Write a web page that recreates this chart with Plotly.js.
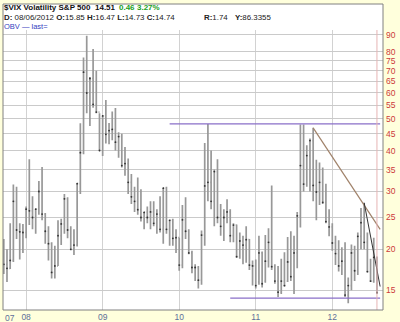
<!DOCTYPE html>
<html>
<head>
<meta charset="utf-8">
<script src="https://cdn.plot.ly/plotly-3.0.1.min.js"></script>
<style>html,body{margin:0;padding:0;background:#FFFFDC;}#chart{width:400px;height:322px;}</style>
</head>
<body>
<div id="chart"></div>
<script>
// Half-month bar periods (trading-style category axis)
const periods = [
 "2007-09-16","2007-10-01","2007-10-16","2007-11-01","2007-11-16","2007-12-01","2007-12-16",
 "2008-01-01","2008-01-16","2008-02-01","2008-02-16","2008-03-01","2008-03-16","2008-04-01","2008-04-16",
 "2008-05-01","2008-05-16","2008-06-01","2008-06-16","2008-07-01","2008-07-16","2008-08-01","2008-08-16",
 "2008-09-01","2008-09-16","2008-10-01","2008-10-16","2008-11-01","2008-11-16","2008-12-01","2008-12-16",
 "2009-01-01","2009-01-16","2009-02-01","2009-02-16","2009-03-01","2009-03-16","2009-04-01","2009-04-16",
 "2009-05-01","2009-05-16","2009-06-01","2009-06-16","2009-07-01","2009-07-16","2009-08-01","2009-08-16",
 "2009-09-01","2009-09-16","2009-10-01","2009-10-16","2009-11-01","2009-11-16","2009-12-01","2009-12-16",
 "2010-01-01","2010-01-16","2010-02-01","2010-02-16","2010-03-01","2010-03-16","2010-04-01","2010-04-16",
 "2010-05-01","2010-05-16","2010-06-01","2010-06-16","2010-07-01","2010-07-16","2010-08-01","2010-08-16",
 "2010-09-01","2010-09-16","2010-10-01","2010-10-16","2010-11-01","2010-11-16","2010-12-01","2010-12-16",
 "2011-01-01","2011-01-16","2011-02-01","2011-02-16","2011-03-01","2011-03-16","2011-04-01","2011-04-16",
 "2011-05-01","2011-05-16","2011-06-01","2011-06-16","2011-07-01","2011-07-16","2011-08-01","2011-08-16",
 "2011-09-01","2011-09-16","2011-10-01","2011-10-16","2011-11-01","2011-11-16","2011-12-01","2011-12-16",
 "2012-01-01","2012-01-16","2012-02-01","2012-02-16","2012-03-01","2012-03-16","2012-04-01","2012-04-16",
 "2012-05-01","2012-05-16","2012-06-01","2012-06-16","2012-07-01","2012-07-16","2012-08-01"
];
const openV = [
 20.5,18,17.5,18.5,28,22.9,22.6,
 22.5,26.5,26.2,25,26.5,30,25.6,22.7,
 20.8,17,17.8,22,23.9,28.5,22.9,20,
 20.6,31.7,39.4,69.3,59.9,66.3,55.3,52.4,
 40,51,44.8,46,46.4,42.4,44.1,36,
 36.5,32,28.9,28,26.4,25,25.9,25,
 26,24,25.6,23,30.7,23,24.5,21.6,
 21.7,17.9,24.6,22.7,19.5,17.6,17.6,16.1,
 22.1,31.2,32,28,34.5,25,23.5,25,
 26,22,23.7,19,21.2,20.6,21.4,17.9,
 17.8,15.9,19.5,16,18.4,21,17.7,16,
 14.8,16,16,18.3,16.5,19.5,25.3,36,
 31.6,38.6,42.9,31.3,29.9,32,27.8,24.3,
 23.4,20.9,19.4,17.8,18.4,14.5,15.5,19.5,
 17.2,21.9,24.1,21,17.1,16,18.9
];
const highV = [
 21.5,20,24,31.5,31,24,23.9,
 27,37.6,29,26.5,32.3,35.6,25.8,23.5,
 21,20.5,24.5,24.8,29.5,28.8,23.5,23,
 31.8,48.4,76.9,89.5,67,81.5,70,52,
 51,57,48.5,52.6,53.9,45.5,45,41,
 37.8,33.9,31,33.1,30.5,26,27,28,
 28,26.5,29,30.7,31,24.5,24.8,23,
 21.7,27.3,28.8,23,19.8,18,17.8,22.8,
 42.2,48.2,40,35,37.6,27.5,26.5,28.4,
 26.5,24,23.8,22.5,22,23.5,21.5,18.5,
 18.6,22,19.7,22.1,23.2,31.3,18,17.8,
 18.7,19.6,21.8,22.7,22,26,48,48,
 41.5,43.5,46.9,37.5,36.8,35.5,31.7,26.5,
 24,22,21.3,20.3,21,16.4,20.7,20.5,
 22.5,26.7,27.7,22.5,18.7,21.7,19
];
const lowV = [
 16.8,15.9,17.4,18.3,21.5,18.6,19.5,
 21.6,23.7,23,22.3,25.5,24.5,20.8,18.5,
 16.3,16.3,17.8,20.6,22.3,21.6,19.9,19.2,
 20.4,29.5,39,52,47.5,54,52,40,
 38.5,42,41.8,43,40,38,35.5,33.5,
 29.5,27.5,26,25.5,24.3,23,24,23,
 23.5,22.3,22.5,20.8,22.3,20.5,20.5,19.5,
 17.2,17.5,21.5,19.3,16.9,16,15.2,15.6,
 20.5,28,26.5,23.5,24,22,21.2,24,
 21,21,18.8,18.7,18,18.2,17.3,15.5,
 15.2,15.6,15.3,15.8,17.6,17.3,15.7,14.3,
 14.6,15.4,15.9,16,14.6,17.5,23.3,30,
 31,30,28,24.5,27.3,27.5,24,21.9,
 19.8,17.9,17.1,16.7,14.3,13.7,15,16,
 16.7,20,20,17,15.9,15.8,14.7
];
const closeV = [
 18,17.5,18.5,28,22.9,22.6,22.5,
 26.5,26.2,25,26.5,30,25.6,22.7,20.8,
 17,17.8,22,23.9,28.5,22.9,20,20.6,
 31.7,39.4,69.3,59.9,66.3,55.3,52.4,40,
 51,44.8,46,46.4,42.4,44.1,36,36.5,
 32,28.9,28,26.4,25,25.9,25,26,
 24,25.6,23,30.7,23,24.5,21.6,21.7,
 17.9,24.6,22.7,19.5,17.6,17.6,16.1,22.1,
 31.2,32,28,34.5,25,23.5,25,26,
 22,23.7,19,21.2,20.6,21.4,17.9,17.8,
 15.5,19.5,15.7,18.4,21,17.7,16,14.8,
 16,15.5,18.3,16.5,19.5,25.3,36,31.6,
 38.6,42.9,31.3,29.9,32,27.8,24.3,23.4,
 20.9,19.4,17.8,18.4,14.5,15.5,19.5,17.2,
 21.9,24.1,21,17.1,16,18.9,14.74
];
// extra slot at right edge for drawn lines
const extraPeriod = "2012-08-16";

// Drawn annotation lines
const resistDates = ["2009-11-16", "2012-08-16"];
const resistVals = [48.2, 48.2];
const supportDates = ["2010-09-01", "2012-08-16"];
const supportVals = [14.2, 14.2];
const downTrendDates = ["2011-10-01", "2012-08-16"];
const downTrendVals = [46.9, 23.0];
const steepTrendDates = ["2012-06-01", "2012-08-16"];
const steepTrendVals = [27.7, 15.4];

// Axis ticks
const yTicks = [15,20,25,30,35,40,45,50,55,60,65,70,75,80,90];
const xTickVals = ["2008-01-01","2009-01-01","2010-01-01","2011-01-01","2012-01-01"];
const xTickText = ["08","09","10","11","12"];

const allCats = periods.concat([extraPeriod]);

const traces = [
 {type:"ohlc", x:periods, open:openV, high:highV, low:lowV, close:closeV,
  increasing:{line:{color:"#989898", width:1.7}}, decreasing:{line:{color:"#989898", width:1.7}},
  tickwidth:0.3, hoverinfo:"skip", showlegend:false},
 {type:"scatter", mode:"markers", x:periods, y:closeV,
  marker:{color:"#333", size:1.8}, showlegend:false, hoverinfo:"skip"},
 {type:"scatter", mode:"lines", x:resistDates, y:resistVals, line:{color:"#8a6fc8", width:1.2}, showlegend:false},
 {type:"scatter", mode:"lines", x:supportDates, y:supportVals, line:{color:"#8a6fc8", width:1.2}, showlegend:false},
 {type:"scatter", mode:"lines", x:downTrendDates, y:downTrendVals, line:{color:"#a0826a", width:1.2}, showlegend:false},
 {type:"scatter", mode:"lines", x:steepTrendDates, y:steepTrendVals, line:{color:"#333", width:1}, showlegend:false}
];

const H = 280; // plot height
function py(Y){ return (310 - Y)/H; }
function px(X){ return (X - 3)/380; }
const font = "Liberation Sans, Arial, sans-serif";

const layout = {
 width:400, height:322,
 margin:{l:3, r:17, t:30, b:12, pad:0},
 paper_bgcolor:"#FFFFDC", plot_bgcolor:"#FFFFFF",
 showlegend:false,
 xaxis:{type:"category", categoryorder:"array", categoryarray:allCats,
  range:[-0.25, 118.9], tickmode:"array", tickvals:xTickVals, ticktext:xTickText,
  showgrid:true, gridcolor:"#d2d2d2", gridwidth:1, ticks:"", zeroline:false,
  tickfont:{family:font, size:8.5, color:"#60709a"}, rangeslider:{visible:false}, fixedrange:true},
 yaxis:{type:"log", side:"right", range:[Math.log10(13.06), Math.log10(93.2)],
  tickmode:"array", tickvals:yTicks, ticktext:yTicks.map(String),
  showgrid:true, gridcolor:"#cacaca", gridwidth:1, ticks:"", zeroline:false,
  tickfont:{family:font, size:8.5, color:"#cc3a3a"}, ticklabelstandoff:2, fixedrange:true},
 shapes:[
  {type:"rect", xref:"paper", yref:"paper", x0:0, x1:1, y0:1, y1:py(4), fillcolor:"#ffffff", line:{width:0}, layer:"below"},
  {type:"line", xref:"x", yref:"paper", x0:"2012-08-01", x1:"2012-08-01", y0:0, y1:1, line:{color:"#e6b4b4", width:1}, layer:"above"},
  {type:"rect", xref:"paper", yref:"paper", x0:0, x1:1, y0:0, y1:py(4), line:{color:"#808080", width:1}, fillcolor:"rgba(0,0,0,0)", layer:"above"}
 ],
 annotations:[
  {xref:"paper", yref:"paper", x:px(2), y:py(7.5), xanchor:"left", yanchor:"middle", showarrow:false,
   text:"<b>$VIX Volatility S&amp;P 500</b>", font:{family:font, size:8, color:"#111"}},
  {xref:"paper", yref:"paper", x:px(93), y:py(7.5), xanchor:"left", yanchor:"middle", showarrow:false,
   text:"<b>14.51</b>", font:{family:font, size:8, color:"#111"}},
  {xref:"paper", yref:"paper", x:px(117), y:py(7.5), xanchor:"left", yanchor:"middle", showarrow:false,
   text:"<b>0.46</b>", font:{family:font, size:8, color:"#22a022"}},
  {xref:"paper", yref:"paper", x:px(135), y:py(7.5), xanchor:"left", yanchor:"middle", showarrow:false,
   text:"<b>3.27%</b>", font:{family:font, size:8, color:"#22a022"}},
  {xref:"paper", yref:"paper", x:px(2), y:py(17.5), xanchor:"left", yanchor:"middle", showarrow:false,
   text:"<b>D:</b> 08/06/2012 <b>O:</b>15.85 <b>H:</b>16.47 <b>L:</b>14.73 <b>C:</b>14.74", font:{family:font, size:7.9, color:"#222"}},
  {xref:"paper", yref:"paper", x:px(202), y:py(17.5), xanchor:"left", yanchor:"middle", showarrow:false,
   text:"<b>R:</b>1.74", font:{family:font, size:7.9, color:"#222"}},
  {xref:"paper", yref:"paper", x:px(233), y:py(17.5), xanchor:"left", yanchor:"middle", showarrow:false,
   text:"<b>Y:</b>86.3355", font:{family:font, size:7.9, color:"#222"}},
  {xref:"paper", yref:"paper", x:px(2), y:py(26.5), xanchor:"left", yanchor:"middle", showarrow:false,
   text:"OBV — last=", font:{family:font, size:7.5, color:"#3340c0"}},
  {xref:"paper", yref:"paper", x:px(3), y:-0.005, xanchor:"left", yanchor:"top", showarrow:false,
   text:"07", font:{family:font, size:8.5, color:"#60709a"}}
 ]
};

Plotly.newPlot("chart", traces, layout, {staticPlot:true, displayModeBar:false});
</script>
</body>
</html>
